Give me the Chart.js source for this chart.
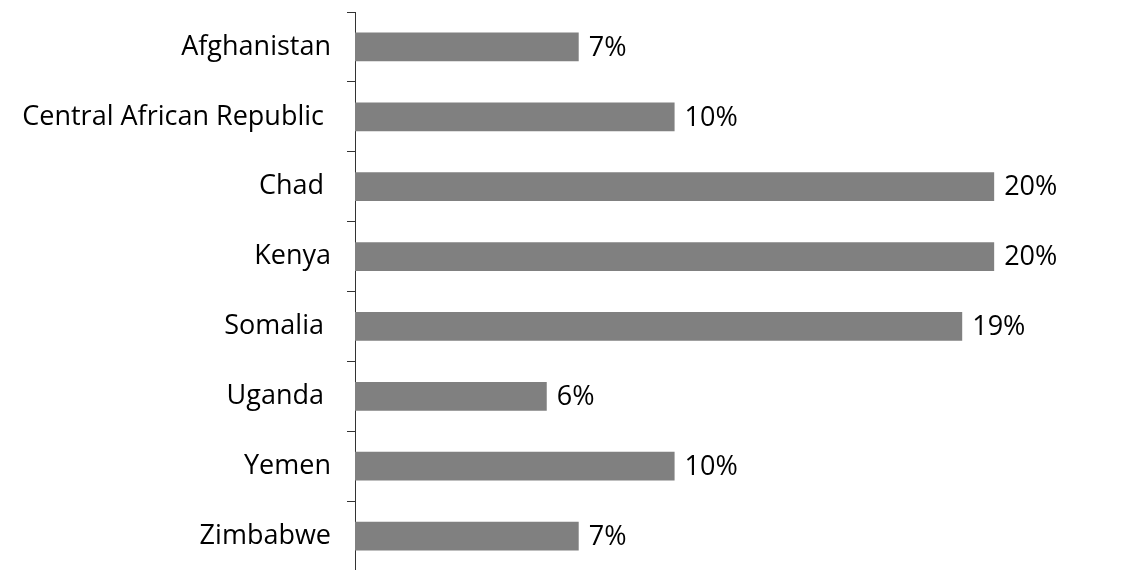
<!DOCTYPE html>
<html>
<head>
<meta charset="utf-8">
<script src="https://cdn.jsdelivr.net/npm/chart.js@4.4.1/dist/chart.umd.min.js"></script>
<style>
  html, body { margin: 0; padding: 0; background: #ffffff; overflow: hidden; }
  #wrap { position: relative; width: 1144px; height: 570px; overflow: hidden; }
  canvas { display: block; }
</style>
</head>
<body>
<div id="wrap"><canvas id="chart" width="1144" height="576"></canvas></div>
<script>
// Countries (some names carry a trailing space, as in the source sheet)
const countries = [
  'Afghanistan',
  'Central African Republic ',
  'Chad ',
  'Kenya',
  'Somalia ',
  'Uganda ',
  'Yemen',
  'Zimbabwe'
];
// Share per country, in percent
const shares = [7, 10, 20, 20, 19, 6, 10, 7];

const FONT = '"Open Sans", sans-serif';
const FONT_SIZE = 27;
const FONT_WEIGHT = 400;

// Writes "n%" just right of each bar end
const valueLabels = {
  id: 'valueLabels',
  afterDatasetsDraw(chart) {
    const { ctx } = chart;
    const meta = chart.getDatasetMeta(0);
    ctx.save();
    ctx.font = FONT_WEIGHT + ' ' + FONT_SIZE + 'px ' + FONT;
    ctx.fillStyle = '#000000';
    ctx.textAlign = 'left';
    ctx.textBaseline = 'middle';
    meta.data.forEach((bar, i) => {
      ctx.fillText(shares[i] + '%', bar.x + 10, bar.y + 1);
    });
    ctx.restore();
  }
};

new Chart(document.getElementById('chart'), {
  type: 'bar',
  data: {
    labels: countries,
    datasets: [{
      data: shares,
      backgroundColor: '#808080',
      borderWidth: 0,
      barPercentage: 0.41,
      categoryPercentage: 1.0
    }]
  },
  options: {
    indexAxis: 'y',
    responsive: false,
    animation: false,
    layout: { padding: { top: 12, bottom: 5, left: 0, right: 22 } },
    plugins: { legend: { display: false }, tooltip: { enabled: false } },
    scales: {
      x: {
        display: false,
        min: 0,
        max: 24
      },
      y: {
        offset: true,
        afterFit(scale) {
          scale.width = 355;
          scale.paddingTop = 0;
          scale.paddingBottom = 0;
        },
        grid: {
          offset: true,
          drawOnChartArea: false,
          drawTicks: true,
          tickLength: 8,
          color: '#333333',
          lineWidth: 1
        },
        border: { display: true, color: '#333333', width: 1 },
        ticks: {
          color: '#000000',
          padding: 16,
          font: { family: FONT, size: FONT_SIZE, weight: FONT_WEIGHT }
        }
      }
    }
  },
  plugins: [valueLabels]
});
</script>
</body>
</html>
